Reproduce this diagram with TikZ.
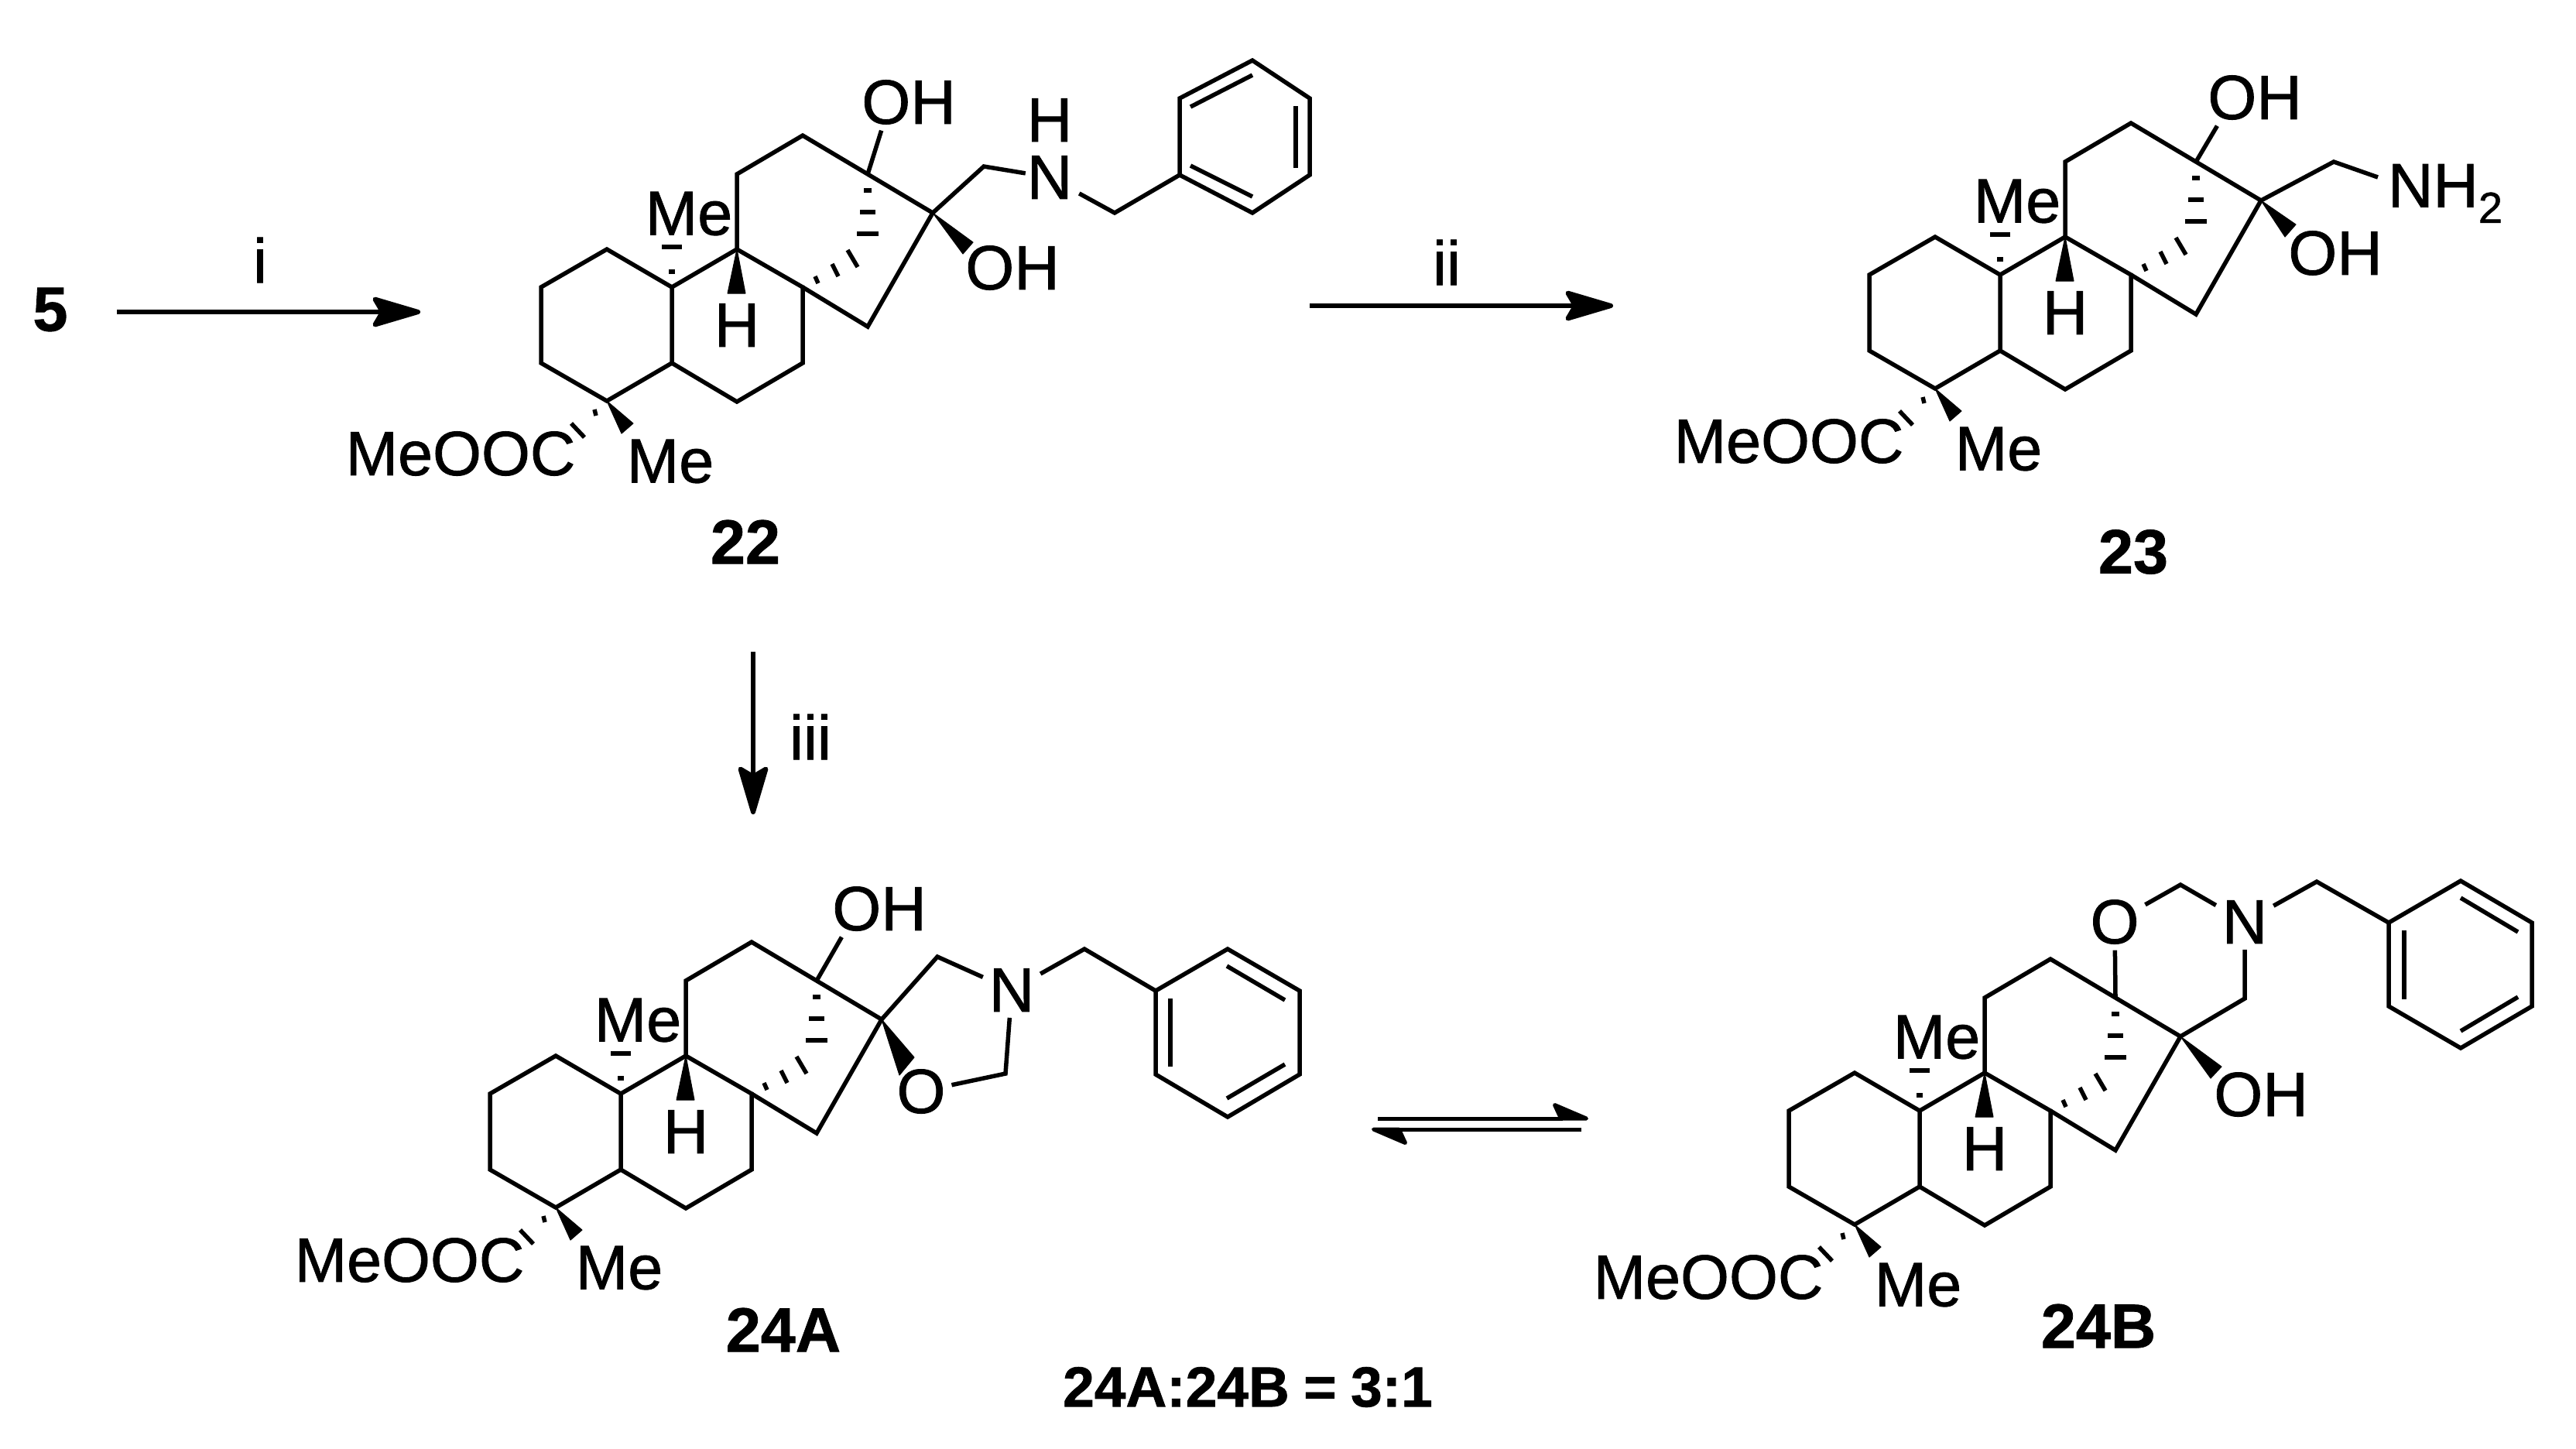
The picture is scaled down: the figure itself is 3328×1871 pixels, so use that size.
\documentclass[tikz,border=0pt]{standalone}
\usepackage{fontspec}
\setmainfont[FakeBold=1]{Liberation Sans}
\usetikzlibrary{arrows.meta}

\tikzset{
  every node/.style={font=\fontsize{23}{23}\selectfont},
  atom/.style={inner sep=0.08cm,outer sep=0pt},
  lab/.style={font=\fontsize{23}{23}\selectfont\bfseries},
  bond/.style={line width=0.55mm},
  hashbond/.style={line width=0.55mm},
  wedgebond/.style={fill=black,draw=black,line width=0.1mm,line join=round},
  rxn/.style={line width=0.6mm,-{Stealth[length=7.2mm,width=4.2mm,inset=1.2mm,round]}},
  eqm/.style={line width=0.5mm,-{Stealth[harpoon,length=5.2mm,width=4.4mm,inset=1mm,round]}}
}

% common ring skeleton, drawn around the lower ring fusion
\newcommand{\skeleton}[1]{
  \foreach \n/\x/\y in {a/0/0,b/0/-98,c/-84/-147,d/-169/-98,e/-169/0,f/-84/49,
    g/84/-147,h/169/-98,k/169/0,l/84/50,m/84/-244,n/169/-294,o/253/-244,p/337/-194,q/253/-47,
    r/72/-90,s/95/-90,t/-50/78,u/-65/91}
    \coordinate (#1\n) at (\x,\y);
  \draw[bond] (#1a) -- (#1b) -- (#1c) -- (#1d) -- (#1e) -- (#1f) -- cycle;
  \draw[bond] (#1b) -- (#1g) -- (#1h) -- (#1k) -- (#1l) -- (#1a);
  \draw[bond] (#1g) -- (#1m) -- (#1n) -- (#1o) -- (#1p) -- (#1q) -- (#1h);
  \fill[wedgebond] (#1g) -- (#1r) -- (#1s) -- cycle;
  \fill[wedgebond] (#1f) -- (#1t) -- (#1u) -- cycle;
  \foreach \xa/\ya/\xb/\yb in {-13/-150/13/-150,-4/-118/4/-118,-130/78/-113/96,-100/60/-98/68,
    248/-223/258/-223,243/-195/263/-195,239/-167/267/-167,227/-146/240/-124,207/-128/215/-112,185/-112/189/-103}
    \draw[hashbond] (\xa,\ya) -- (\xb,\yb);
  \node[atom] (#1me) at (22,-193) {Me};
  \node[atom] (#1hh) at (84,-49) {H};
  \node[atom] (#1est) at (-273,117) {MeOOC};
  \node[atom] (#1mf) at (-2,127) {Me};
}

\begin{document}
\begin{tikzpicture}[x=0.01cm,y=-0.01cm]
\useasboundingbox (0,0) rectangle (3328,1871);

% reaction arrows
\node[lab] (five) at (65,400) {5};
\coordinate (ia) at (151,403);
\coordinate (ib) at (543,403);
\draw[rxn] (ia) -- (ib);
\node (ilab) at (336,336) {i};
\coordinate (iia) at (1692,395);
\coordinate (iib) at (2084,395);
\draw[rxn] (iia) -- (iib);
\node (iilab) at (1869,339) {ii};
\coordinate (iiia) at (973,842);
\coordinate (iiib) at (973,1052);
\draw[rxn] (iiia) -- (iiib);
\node (iiilab) at (1047,952) {iii};
\coordinate (eqa) at (1780,1445);
\coordinate (eqb) at (2052,1445);
\coordinate (eqc) at (2043,1459);
\coordinate (eqd) at (1772,1459);
\draw[eqm] (eqa) -- (eqb);
\draw[eqm] (eqc) -- (eqd);

% compound 22
\begin{scope}[shift={(868,469)}]
\skeleton{p}
\node[atom] (pohu) at (306,-337) {OH};
\node[atom] (pohd) at (440,-123) {OH};
\node[atom,inner sep=0.02cm] (pnit) at (488,-240) {N};
\node[atom,inner sep=0pt] (pnh) at (488,-314) {H};
\foreach \n/\x/\y in {v/403/-254,w/572/-194,b1/656/-243,b2/656/-342,b3/750/-391,b4/824/-342,b5/824/-243,b6/750/-194,
  x/389/-156,y/376/-141,d1/670/-331,d2/750/-372,d3/806/-332,d4/806/-252,d5/670/-255,d6/750/-215}
  \coordinate (p\n) at (\x,\y);
\draw[bond] (po) -- (pohu.226);
\draw[bond] (pp) -- (pv) -- (pnit);
\draw[bond,shorten <=0.08cm] (pnit) -- (pw) -- (pb1);
\draw[bond] (pb1) -- (pb2) -- (pb3) -- (pb4) -- (pb5) -- (pb6) -- cycle;
\draw[bond] (pd1) -- (pd2);
\draw[bond] (pd3) -- (pd4);
\draw[bond] (pd5) -- (pd6);
\fill[wedgebond] (pp) -- (px) -- (py) -- cycle;
\end{scope}
\node[lab] (l22) at (963,700) {22};

% compound 23
\begin{scope}[shift={(2584,453)}]
\skeleton{q}
\node[atom] (qohu) at (329,-327) {OH};
\node[atom] (qohd) at (433,-126) {OH};
\node[atom,anchor=west,inner sep=0pt] (qnh) at (501,-203) {NH\raisebox{-0.25em}{\fontsize{16}{16}\selectfont 2}};
\foreach \n/\x/\y in {v/431/-244,w/488/-224,x/382/-163,y/368/-147}
  \coordinate (q\n) at (\x,\y);
\draw[bond] (qo) -- (qohu.217);
\draw[bond] (qp) -- (qv) -- (qw);
\fill[wedgebond] (qp) -- (qx) -- (qy) -- cycle;
\end{scope}
\node[lab] (l23) at (2756,713) {23};

% compound 24A
\begin{scope}[shift={(802,1511)}]
\skeleton{r}
\node[atom] (rohu) at (334,-337) {OH};
\node[atom] (rnit) at (505,-232) {N};
\node[atom] (roxy) at (388,-101) {O};
\foreach \n/\x/\y in {v/409/-275,w/497/-124,z/599/-285,b1/691/-231,b2/784/-285,b3/877/-231,b4/877/-123,b5/784/-68,b6/691/-123,
  x/379/-145,y/360/-122,d1/783/-263,d2/858/-219,d3/710/-221,d4/710/-133,d5/783/-92,d6/858/-136}
  \coordinate (r\n) at (\x,\y);
\draw[bond] (ro) -- (rohu.217);
\draw[bond] (rp) -- (rv) -- (rnit) -- (rz) -- (rb1);
\draw[bond] (roxy) -- (rw) -- (rnit);
\draw[bond] (rb1) -- (rb2) -- (rb3) -- (rb4) -- (rb5) -- (rb6) -- cycle;
\draw[bond] (rd1) -- (rd2);
\draw[bond] (rd3) -- (rd4);
\draw[bond] (rd5) -- (rd6);
\fill[wedgebond] (rp) -- (rx) -- (ry) -- cycle;
\end{scope}
\node[lab] (l24a) at (1012,1718) {24A};
\node[lab,font=\fontsize{20.8}{20.8}\selectfont\bfseries] (lratio) at (1612,1792) {24A:24B\hspace{0.25em}=\hspace{0.25em}3:1};

% compound 24B
\begin{scope}[shift={(2480,1533)}]
\skeleton{s}
\node[atom] (soxy) at (252,-342) {O};
\node[atom] (snit) at (420,-342) {N};
\node[atom] (sohd) at (441,-119) {OH};
\foreach \n/\x/\y in {v/337/-390,w/420/-243,z/513/-394,b1/606/-341,b2/699/-395,b3/791/-341,b4/791/-233,b5/699/-179,b6/606/-233,
  x/390/-155,y/376/-140,d1/699/-373,d2/773/-329,d3/626/-331,d4/626/-242,d5/699/-201,d6/773/-245}
  \coordinate (s\n) at (\x,\y);
\draw[bond] (so) -- (soxy) -- (sv) -- (snit) -- (sw) -- (sp);
\draw[bond] (snit) -- (sz) -- (sb1);
\draw[bond] (sb1) -- (sb2) -- (sb3) -- (sb4) -- (sb5) -- (sb6) -- cycle;
\draw[bond] (sd1) -- (sd2);
\draw[bond] (sd3) -- (sd4);
\draw[bond] (sd5) -- (sd6);
\fill[wedgebond] (sp) -- (sx) -- (sy) -- cycle;
\end{scope}
\node[lab] (l24b) at (2711,1713) {24B};
\end{tikzpicture}
\end{document}
